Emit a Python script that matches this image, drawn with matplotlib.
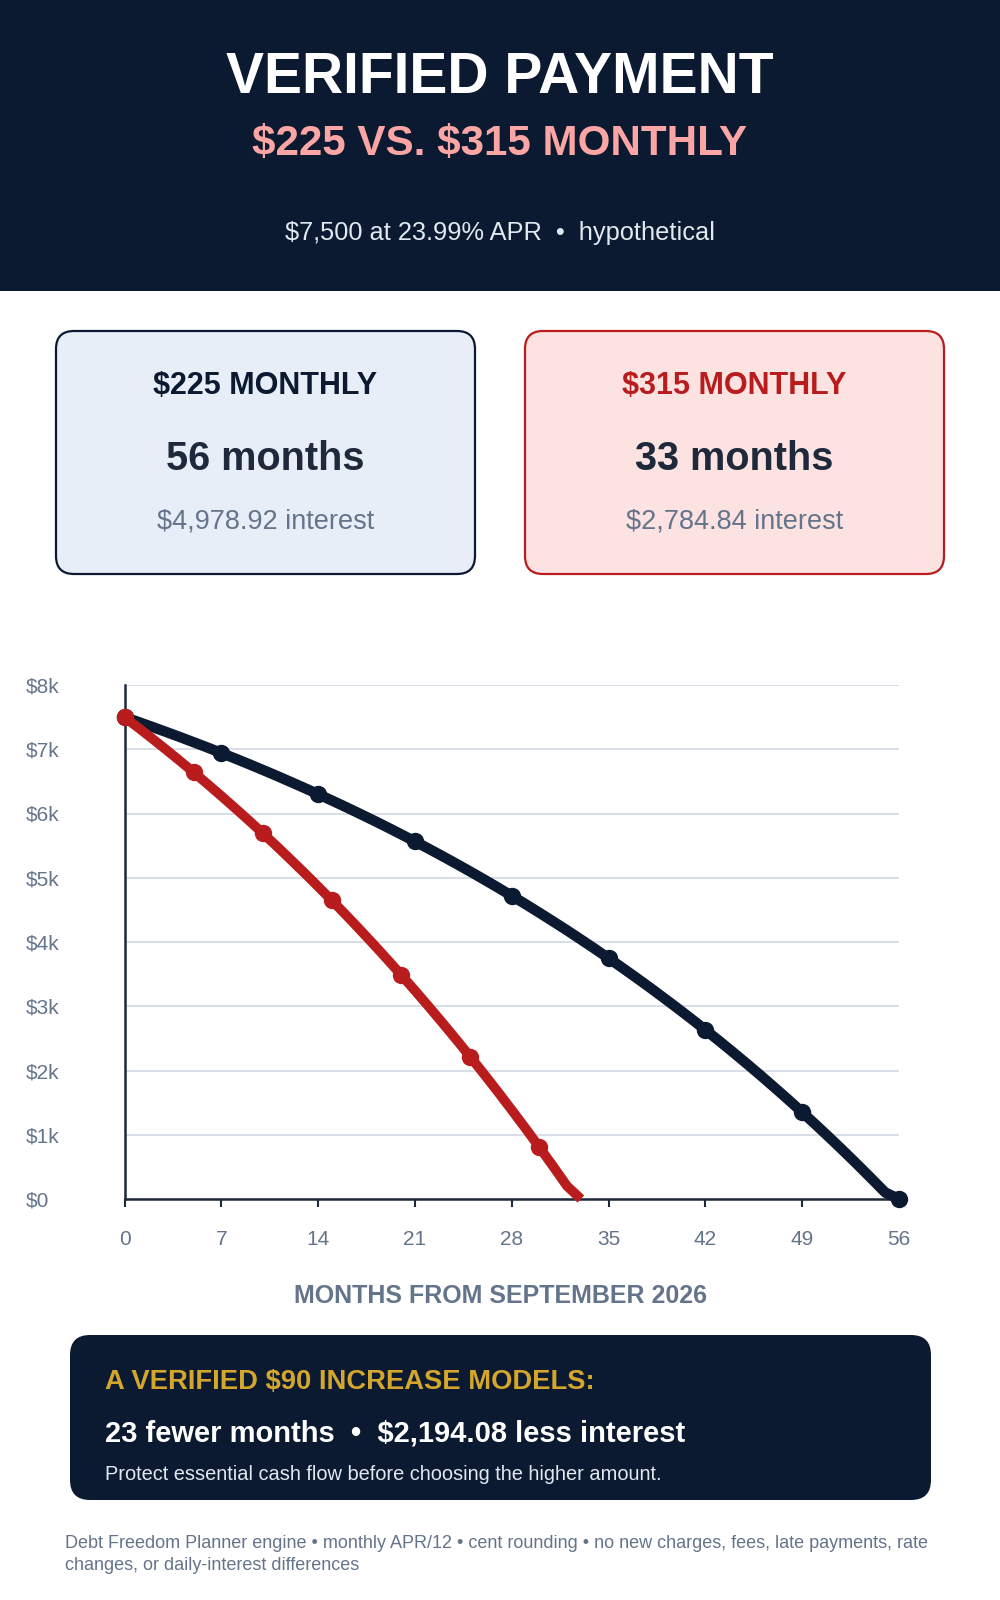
import matplotlib
matplotlib.use("Agg")
import matplotlib.pyplot as plt
from matplotlib.patches import FancyBboxPatch, Rectangle

plt.rcParams["font.family"] = ["Liberation Sans", "DejaVu Sans"]

# balances by month
months_225 = list(range(0, 57))
balance_225 = [7500, 7425, 7348, 7270, 7191, 7109, 7027, 6942, 6856, 6768,
               6678, 6587, 6493, 6398, 6301, 6202, 6101, 5998, 5893, 5786,
               5676, 5565, 5451, 5335, 5217, 5096, 4973, 4847, 4719, 4589,
               4455, 4319, 4181, 4039, 3895, 3748, 3598, 3445, 3289, 3129,
               2967, 2801, 2632, 2460, 2284, 2105, 1922, 1735, 1545, 1351,
               1153, 951, 745, 535, 320, 102, 0]
months_315 = list(range(0, 34))
balance_315 = [7500, 7335, 7167, 6995, 6820, 6641, 6459, 6273, 6083, 5890,
               5693, 5492, 5286, 5077, 4863, 4646, 4424, 4197, 3966, 3730,
               3490, 3245, 2994, 2739, 2479, 2214, 1943, 1667, 1385, 1098,
               805, 506, 201, 0]

x_ticks = [0, 7, 14, 21, 28, 35, 42, 49, 56]
y_ticks = [0, 1000, 2000, 3000, 4000, 5000, 6000, 7000, 8000]
y_labels = ["$0", "$1k", "$2k", "$3k", "$4k", "$5k", "$6k", "$7k", "$8k"]

NAVY = "#0b1a30"
RED = "#b91c1c"
SLATE = "#64748b"

fig = plt.figure(figsize=(10, 16), dpi=100)

# full-page layer in pixel units (top-left origin)
bg = fig.add_axes([0, 0, 1, 1])
bg.set_xlim(0, 1000)
bg.set_ylim(1600, 0)
bg.axis("off")

bg.add_patch(Rectangle((0, 0), 1000, 291, facecolor=NAVY, edgecolor="none"))
bg.text(500, 78, "VERIFIED PAYMENT", color="white", fontsize=41,
        fontweight="bold", ha="center", va="center")
bg.text(500, 144, "$225 VS. $315 MONTHLY", color="#fca5a5", fontsize=30.3,
        fontweight="bold", ha="center", va="center", parse_math=False)
bg.text(500, 233, "$7,500 at 23.99% APR  \u2022  hypothetical", color="#e2e8f0",
        fontsize=18.3, ha="center", va="center")

# summary cards
cards = [
    (56, "#e8eef8", NAVY, "$225 MONTHLY", NAVY, "56 months", "$4,978.92 interest"),
    (525, "#fde2e2", RED, "$315 MONTHLY", RED, "33 months", "$2,784.84 interest"),
]
for x0, face, edge, head, head_col, big, small in cards:
    bg.add_patch(FancyBboxPatch((x0, 331), 419, 243,
                                boxstyle="round,pad=0,rounding_size=18",
                                facecolor=face, edgecolor=edge, linewidth=1.6))
    cx = x0 + 209.5
    bg.text(cx, 386, head, color=head_col, fontsize=22, fontweight="bold",
            ha="center", va="center")
    bg.text(cx, 459, big, color="#1e293b", fontsize=28.5, fontweight="bold",
            ha="center", va="center")
    bg.text(cx, 521, small, color=SLATE, fontsize=19.5, ha="center", va="center")

# chart
ax = fig.add_axes([0.1245, 1 - 1199 / 1600, 0.7745, (1199 - 685) / 1600])
ax.plot(months_225, balance_225, color=NAVY, lw=7.5, marker="o", ms=11.5,
        markevery=list(range(0, 57, 7)), solid_capstyle="round",
        solid_joinstyle="round", clip_on=False, zorder=3)
ax.plot(months_315, balance_315, color=RED, lw=7, marker="o", ms=11.5,
        markevery=list(range(0, 31, 5)), solid_capstyle="butt",
        solid_joinstyle="round", clip_on=False, zorder=4)

ax.set_xlim(0, 56)
ax.set_ylim(0, 8000)
ax.set_xticks(x_ticks)
ax.set_xticklabels([str(v) for v in x_ticks])
ax.set_yticks(y_ticks)
ax.set_yticklabels(y_labels)
for lab in ax.get_yticklabels():
    lab.set_horizontalalignment("left")
ax.tick_params(axis="y", length=0, pad=71, labelsize=15, labelcolor=SLATE)
ax.tick_params(axis="x", length=6, width=1.5, color="#1e293b", pad=16,
               labelsize=15, labelcolor=SLATE)
ax.grid(axis="y", color="#cbd5e1", lw=1.1)
ax.set_axisbelow(True)
for side in ["top", "right"]:
    ax.spines[side].set_visible(False)
for side in ["left", "bottom"]:
    ax.spines[side].set_color("#1e293b")
    ax.spines[side].set_linewidth(1.8)
    ax.spines[side].set_zorder(2.5)

bg.text(500, 1296, "MONTHS FROM SEPTEMBER 2026", color=SLATE, fontsize=18,
        fontweight="bold", ha="center", va="center")

# takeaway box
bg.add_patch(FancyBboxPatch((70, 1335), 861, 165,
                            boxstyle="round,pad=0,rounding_size=20",
                            facecolor=NAVY, edgecolor="none"))
bg.text(105, 1382, "A VERIFIED $90 INCREASE MODELS:", color="#d4a72c",
        fontsize=19.7, fontweight="bold", ha="left", va="center")
bg.text(105, 1433, "23 fewer months  \u2022  $2,194.08 less interest", color="white",
        fontsize=21, fontweight="bold", ha="left", va="center")
bg.text(105, 1475, "Protect essential cash flow before choosing the higher amount.",
        color="#e2e8f0", fontsize=14.4, ha="left", va="center")

bg.text(65, 1544, "Debt Freedom Planner engine \u2022 monthly APR/12 \u2022 cent rounding "
        "\u2022 no new charges, fees, late payments, rate", color=SLATE,
        fontsize=13, ha="left", va="center")
bg.text(65, 1566, "changes, or daily-interest differences", color=SLATE,
        fontsize=13, ha="left", va="center")

fig.savefig("out.png", dpi=100)
